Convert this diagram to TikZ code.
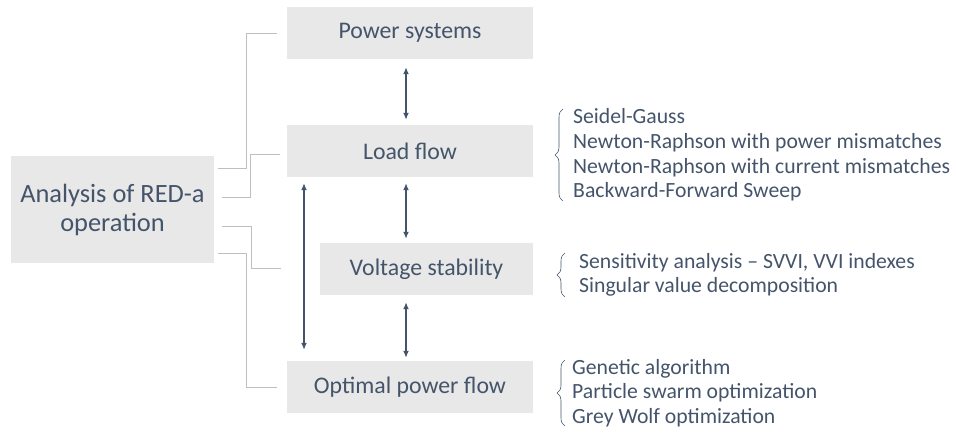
\documentclass[tikz,border=0pt]{standalone}
\usepackage{fontspec}
\setmainfont{Carlito}
\usetikzlibrary{arrows.meta,decorations.pathreplacing}
\definecolor{slate}{HTML}{44546A}
\definecolor{boxgray}{HTML}{E8E8E8}
\definecolor{linkgray}{HTML}{BFBFBF}

\begin{document}
\begin{tikzpicture}[x=1pt,y=-1pt,
  box/.style={fill=boxgray,text=slate,minimum width=246pt,minimum height=52pt,inner sep=0pt,font=\fontsize{23.8}{28}\selectfont},
  link/.style={draw=linkgray,line width=1pt},
  dbl/.style={draw=slate,line width=1.5pt,{Latex[length=7pt,width=6pt]}-{Latex[length=7pt,width=6pt]}},
  items/.style={text=slate,anchor=west,align=left,inner sep=0pt,font=\fontsize{21.7}{24.6}\selectfont},
  curly/.style={draw=slate,line width=0.6pt,decorate,decoration={brace,amplitude=8pt}}]
  \useasboundingbox (0,0) rectangle (954,434);

  % main block and the four steps
  \node[box,minimum width=203pt,minimum height=107pt,align=center,font=\fontsize{26.4}{29}\selectfont] (an) at (112.5,209.5) {Analysis of RED-a\\operation};
  \node[box] (ps) at (410,33) {Power systems};
  \node[box] (lf) at (410,151) {Load flow};
  \node[box,minimum width=213pt] (vs) at (426.5,269) {Voltage stability};
  \node[box] (opf) at (410,387) {Optimal power flow};

  % gray links
  \coordinate (a1) at (218,168);
  \coordinate (a2) at (222,197);
  \coordinate (a3) at (222,226);
  \coordinate (a4) at (218,253);
  \draw[link] (a1) -| ([xshift=-40pt]ps.west) -- ([xshift=-10pt]ps.west);
  \draw[link] (a2) -| ([xshift=-36pt,yshift=-3pt]lf.west) -- ([xshift=-7pt,yshift=-3pt]lf.west);
  \draw[link] (a3) -| ([xshift=-68pt,yshift=1pt]vs.west) -- ([xshift=-39pt,yshift=1pt]vs.west);
  \draw[link] (a4) -| ([xshift=-40pt]opf.west) -- ([xshift=-10pt]opf.west);

  % arrows
  \draw[dbl,shorten <=8pt,shorten >=5pt] ([xshift=-4pt]ps.south) -- ([xshift=-4pt]lf.north);
  \draw[dbl,shorten <=6pt,shorten >=4pt] ([xshift=-4pt]lf.south) -- ([xshift=-20.5pt]vs.north);
  \draw[dbl,shorten <=7pt,shorten >=3pt] ([xshift=-20.5pt]vs.south) -- ([xshift=-4pt]opf.north);
  \draw[dbl,shorten <=6pt,shorten >=11pt] ([xshift=-106pt]lf.south) -- ([xshift=-106pt]opf.north);

  % method lists
  \node[items] (lfl) at (573,155) {Seidel-Gauss\\Newton-Raphson with power mismatches\\Newton-Raphson with current mismatches\\Backward-Forward Sweep};
  \node[items] (vsl) at (579,275) {Sensitivity analysis -- SVVI, VVI indexes\\Singular value decomposition};
  \node[items] (opfl) at (572,393) {Genetic algorithm\\Particle swarm optimization\\Grey Wolf optimization};

  \draw[curly] ([xshift=-10pt,yshift=-46pt]lfl.west) -- ([xshift=-10pt,yshift=46pt]lfl.west);
  \draw[curly] ([xshift=-14pt,yshift=-22pt]vsl.west) -- ([xshift=-14pt,yshift=22pt]vsl.west);
  \draw[curly] ([xshift=-7pt,yshift=-33pt]opfl.west) -- ([xshift=-7pt,yshift=33pt]opfl.west);
\end{tikzpicture}
\end{document}
